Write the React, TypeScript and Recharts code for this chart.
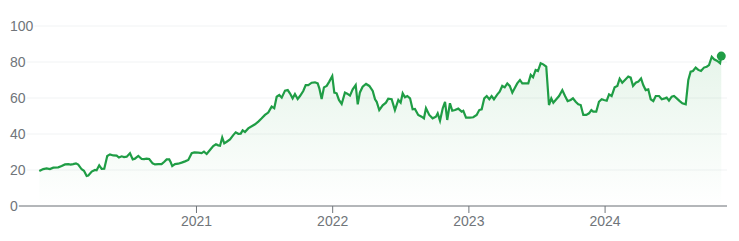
import { AreaChart, Area, XAxis, YAxis, CartesianGrid, ReferenceLine, ReferenceDot } from 'recharts';

// decimal years for each weekly close
const years = [
  2019.846, 2019.875, 2019.9, 2019.924, 2019.949, 2019.985, 2020.01, 2020.035, 2020.059, 2020.076,
  2020.095, 2020.115, 2020.132, 2020.157, 2020.174, 2020.194, 2020.206, 2020.231, 2020.255, 2020.267,
  2020.286, 2020.304, 2020.323, 2020.345, 2020.365, 2020.389, 2020.414, 2020.431, 2020.451, 2020.468,
  2020.488, 2020.512, 2020.532, 2020.548, 2020.573, 2020.598, 2020.615, 2020.634, 2020.653, 2020.678,
  2020.695, 2020.72, 2020.744, 2020.764, 2020.781, 2020.8, 2020.811, 2020.822, 2020.842, 2020.866,
  2020.891, 2020.916, 2020.94, 2020.965, 2020.984, 2021.013, 2021.038, 2021.055, 2021.075, 2021.099,
  2021.123, 2021.143, 2021.16, 2021.173, 2021.189, 2021.204, 2021.222, 2021.246, 2021.27, 2021.288,
  2021.307, 2021.325, 2021.339, 2021.356, 2021.38, 2021.43, 2021.454, 2021.479, 2021.503, 2021.527,
  2021.552, 2021.571, 2021.589, 2021.608, 2021.626, 2021.65, 2021.67, 2021.686, 2021.706, 2021.723,
  2021.743, 2021.76, 2021.784, 2021.802, 2021.821, 2021.846, 2021.87, 2021.89, 2021.902, 2021.919,
  2021.936, 2021.956, 2021.975, 2021.997, 2022.012, 2022.029, 2022.046, 2022.066, 2022.09, 2022.107,
  2022.127, 2022.147, 2022.169, 2022.184, 2022.2, 2022.22, 2022.245, 2022.269, 2022.294, 2022.311,
  2022.323, 2022.342, 2022.367, 2022.391, 2022.408, 2022.433, 2022.457, 2022.482, 2022.499, 2022.514,
  2022.531, 2022.548, 2022.568, 2022.587, 2022.604, 2022.628, 2022.653, 2022.67, 2022.685, 2022.709,
  2022.734, 2022.758, 2022.771, 2022.788, 2022.808, 2022.825, 2022.841, 2022.861, 2022.878, 2022.898,
  2022.922, 2022.947, 2022.959, 2022.979, 2023.008, 2023.032, 2023.057, 2023.076, 2023.094, 2023.113,
  2023.131, 2023.15, 2023.167, 2023.184, 2023.209, 2023.226, 2023.245, 2023.263, 2023.282, 2023.3,
  2023.319, 2023.338, 2023.355, 2023.375, 2023.392, 2023.417, 2023.436, 2023.454, 2023.471, 2023.49,
  2023.507, 2023.527, 2023.546, 2023.568, 2023.588, 2023.605, 2023.62, 2023.637, 2023.662, 2023.686,
  2023.706, 2023.725, 2023.747, 2023.764, 2023.784, 2023.803, 2023.821, 2023.84, 2023.862, 2023.882,
  2023.899, 2023.913, 2023.935, 2023.955, 2023.975, 2023.992, 2024.012, 2024.029, 2024.048, 2024.07,
  2024.09, 2024.107, 2024.126, 2024.151, 2024.17, 2024.188, 2024.205, 2024.225, 2024.244, 2024.264,
  2024.28, 2024.298, 2024.317, 2024.335, 2024.354, 2024.372, 2024.396, 2024.416, 2024.438, 2024.452,
  2024.469, 2024.489, 2024.506, 2024.526, 2024.548, 2024.567, 2024.592, 2024.611, 2024.628, 2024.645,
  2024.665, 2024.684, 2024.704, 2024.726, 2024.746, 2024.763, 2024.783, 2024.8, 2024.824, 2024.844,
  2024.853,
];

const prices = [
  19.4, 20.5, 20.9, 20.5, 21.3, 21.5, 22.2, 23.1, 23.3, 23.0,
  23.3, 23.7, 23.0, 20.4, 19.6, 16.7, 16.9, 19.1, 20.0, 19.8,
  22.6, 20.6, 20.7, 27.8, 28.7, 28.1, 28.0, 26.9, 27.6, 27.2,
  27.4, 29.3, 25.9, 26.3, 27.8, 26.1, 26.0, 26.3, 26.1, 23.7,
  23.1, 23.3, 23.3, 24.6, 25.9, 25.9, 24.3, 22.2, 23.3, 23.5,
  24.1, 24.8, 25.6, 29.3, 29.8, 29.6, 29.4, 30.2, 28.9, 31.1,
  33.3, 34.3, 33.7, 33.5, 38.1, 34.8, 35.7, 37.0, 39.4, 40.9,
  40.1, 40.2, 42.0, 41.1, 43.1, 45.4, 46.9, 48.7, 50.6, 51.9,
  55.2, 54.3, 60.7, 61.7, 60.2, 64.1, 64.4, 62.6, 59.8, 62.2,
  59.4, 61.1, 63.9, 67.2, 67.2, 68.5, 68.7, 68.1, 65.4, 59.4,
  65.9, 66.7, 69.1, 72.2, 63.0, 62.6, 58.9, 56.7, 63.0, 62.4,
  61.3, 64.8, 67.2, 56.5, 63.1, 66.3, 67.8, 66.7, 63.9, 59.3,
  57.9, 53.3, 55.9, 57.4, 59.6, 59.3, 53.3, 58.9, 57.4, 62.6,
  60.4, 61.1, 59.8, 53.7, 53.9, 50.6, 49.6, 48.7, 54.3, 50.6,
  48.7, 49.6, 51.5, 47.4, 54.3, 57.9, 47.8, 57.1, 52.9, 53.3,
  54.1, 52.4, 52.9, 49.1, 49.1, 49.3, 50.6, 53.3, 53.7, 59.8,
  61.1, 59.3, 61.1, 59.3, 62.0, 63.5, 66.7, 65.9, 68.1, 66.7,
  63.0, 65.7, 68.1, 70.0, 68.1, 68.1, 68.1, 72.8, 71.5, 75.6,
  75.0, 79.3, 78.7, 77.4, 56.1, 59.8, 57.4, 58.9, 61.1, 64.4,
  61.1, 58.3, 58.9, 59.8, 57.9, 56.5, 56.1, 50.6, 50.6, 51.5,
  53.3, 52.4, 52.4, 57.9, 59.3, 58.9, 58.5, 62.0, 61.1, 65.9,
  66.7, 70.7, 68.5, 70.4, 71.9, 71.3, 66.7, 68.5, 69.1, 70.9,
  67.2, 64.4, 64.8, 59.3, 58.3, 61.1, 61.1, 59.3, 59.8, 60.2,
  58.5, 60.7, 61.1, 59.8, 58.3, 57.1, 56.5, 70.0, 74.6, 75.0,
  76.9, 75.6, 75.0, 76.9, 77.4, 78.3, 82.9, 81.5, 80.6, 79.3,
  83.3,
];

const yTicks = [0, 20, 40, 60, 80, 100];
const xTicks = [2021, 2022, 2023, 2024];

const GREEN = '#1f9d45';
const GRAY = '#70757a';

const data = years.map((t, i) => ({ t, price: prices[i] }));
const last = data[data.length - 1];

// y labels sit inside the plot on a white patch so the grid starts after them
const renderYTick = (props: any) => {
  const { y, payload } = props;
  const label = String(payload.value);
  const w = label.length * 7.8 + 1;
  return (
    <g key={label}>
      <rect x={0} y={y - 8} width={w + 2} height={16} fill="#fff" />
      <text x={2} y={y} dy="0.355em" textAnchor="start" fill={GRAY} fontSize={14} fontFamily="Arial, sans-serif">
        {label}
      </text>
    </g>
  );
};

export default function App() {
  return (
    <AreaChart width={723} height={233} data={data} margin={{ top: 18, right: 4, left: 1, bottom: 0 }}>
      <defs>
        <linearGradient id="fillGreen" x1="0" y1="0" x2="0" y2="1">
          <stop offset="0%" stopColor="#34a853" stopOpacity={0.2} />
          <stop offset="100%" stopColor="#34a853" stopOpacity={0} />
        </linearGradient>
      </defs>
      <CartesianGrid vertical={false} stroke="#f1f3f4" />
      <XAxis
        dataKey="t"
        type="number"
        domain={[2019.631, 2024.895]}
        allowDataOverflow
        ticks={xTicks}
        axisLine={false}
        tickLine={{ stroke: GRAY }}
        tickSize={7}
        tickMargin={3}
        height={35}
        tick={{ fill: GRAY, fontSize: 14, fontFamily: 'Arial, sans-serif' }}
      />
      <Area
        type="linear"
        dataKey="price"
        stroke={GREEN}
        strokeWidth={2.2}
        fill="url(#fillGreen)"
        dot={false}
        activeDot={false}
        isAnimationActive={false}
      />
      <ReferenceLine
        segment={[{ x: 2019.682, y: 0 }, { x: 2024.895, y: 0 }]}
        stroke={GRAY}
        strokeWidth={1}
        ifOverflow="visible"
      />
      <ReferenceDot x={last.t} y={last.price} r={4.5} fill={GREEN} stroke="none" />
      <YAxis
        domain={[0, 100]}
        ticks={yTicks}
        width={1}
        axisLine={false}
        tickLine={false}
        tick={renderYTick}
        interval={0}
      />
    </AreaChart>
  );
}
